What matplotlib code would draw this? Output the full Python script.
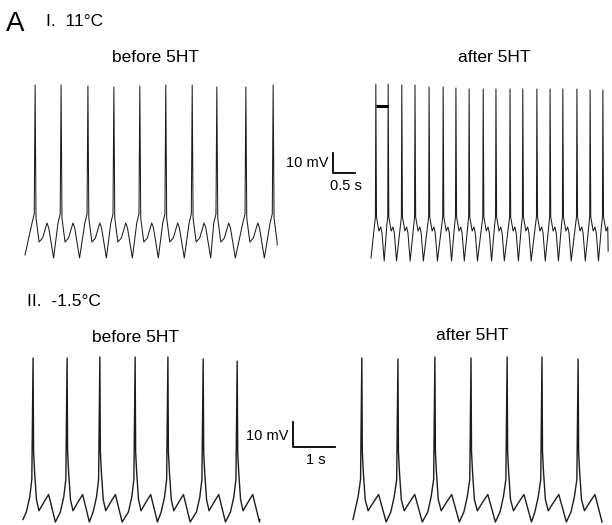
import matplotlib
matplotlib.use("Agg")
import matplotlib.pyplot as plt

plt.rcParams['font.family'] = ['Liberation Sans', 'DejaVu Sans']

W, H = 612, 525

# ---- I. 11 C ----------------------------------------------------------
# spike times (s) and peak voltages (mV), before 5HT
spk_11_pre = [0.23, 0.82, 1.43, 2.02, 2.61, 3.20, 3.80, 4.36, 5.02, 5.64]
peak_11_pre = [26.5, 26.5, 26, 25.5, 26, 26.5, 26.5, 25.5, 25.5, 26.5]
# waveform around each spike (time from peak in s, mV)
rise_dt_11_pre = [-0.07, -0.02]
rise_v_11_pre = [-42.5, -38]
fall_dt_11_pre = [0.02, 0.09, 0.17, 0.27, 0.31, 0.42]
fall_v_11_pre = [-40, -52, -50, -42.5, -45, -60]
end_11_pre = (5.73, -53.5)
start_v_11_pre = -58.5

# after 5HT
spk_11_post = [0.11, 0.39, 0.70, 1.00, 1.32, 1.64, 1.93, 2.23, 2.55, 2.84,
               3.16, 3.45, 3.77, 4.07, 4.36, 4.68, 4.98, 5.27]
peak_11_post = [28.5, 28.5, 28, 28, 27, 27, 26.5, 26, 26, 26,
                26, 26, 26, 26, 26, 26, 25.5, 25.5]
rise_dt_11_post = [-0.03, -0.01]
rise_v_11_post = [-42, -38]
fall_dt_11_post = [0.015, 0.045, 0.07, 0.11, 0.14, 0.19]
fall_v_11_post = [-38, -42, -45, -43, -46, -60]
end_11_post = (5.39, -55)
start_v_11_post = -58.5

# ---- II. -1.5 C -------------------------------------------------------
spk_m15_pre = [0.24, 1.05, 1.83, 2.67, 3.45, 4.29, 5.10]
peak_m15_pre = [5.6, 5.6, 6, 6, 6, 5.2, 4.4]
rise_dt_m15_pre = [-0.16, -0.08, -0.03]
rise_v_m15_pre = [-56, -50, -43]
fall_dt_m15_pre = [0.012, 0.036, 0.08, 0.14, 0.26, 0.37, 0.53]
fall_v_m15_pre = [-32, -40, -51, -55.5, -52, -49, -60]
end_m15_pre = (5.64, -59)
start_v_m15_pre = -59

spk_m15_post = [0.21, 1.07, 1.95, 2.81, 3.67, 4.50, 5.36]
peak_m15_post = [5.6, 5.2, 6, 5.6, 6, 6, 5.2]
rise_dt_m15_post = [-0.17, -0.09, -0.03]
rise_v_m15_post = [-56, -50, -43]
fall_dt_m15_post = [0.012, 0.036, 0.08, 0.15, 0.28, 0.40, 0.58]
fall_v_m15_post = [-32, -40, -51, -55.5, -52, -49, -60]
end_m15_post = (5.93, -60)
start_v_m15_post = -59


def build(spikes, peaks, rise_dt, rise_v, fall_dt, fall_v, start_v, end):
    t, v = [0.0], [start_v]
    for s, p in zip(spikes, peaks):
        for d, y in zip(rise_dt, rise_v):
            if s + d > t[-1]:
                t.append(s + d); v.append(y)
        t.append(s); v.append(p)
        for d, y in zip(fall_dt, fall_v):
            if s + d < end[0]:
                t.append(s + d); v.append(y)
    t.append(end[0]); v.append(end[1])
    return t, v


fig = plt.figure(figsize=(W / 100, H / 100), dpi=100)


def panel(x0, y0, px_s, px_mv):
    # t = 0 s sits at pixel x0, -60 mV at pixel y0 (from top)
    ax = fig.add_axes([0, 0, 1, 1])
    ax.set_xlim(-x0 / px_s, (W - x0) / px_s)
    ax.set_ylim(-60 - (H - y0) / px_mv, -60 + y0 / px_mv)
    ax.axis('off')
    return ax


def label(x, y, s, size=12.5, ha='center'):
    fig.text(x / W, 1 - y / H, s, fontsize=size, ha=ha, va='center')


trace = dict(color='#1c1c1c', lw=0.75)

ax1 = panel(25, 258, 44, 2)
ax1.plot(*build(spk_11_pre, peak_11_pre, rise_dt_11_pre, rise_v_11_pre,
                fall_dt_11_pre, fall_v_11_pre, start_v_11_pre, end_11_pre), **trace)

ax2 = panel(371, 261, 44, 2)
ax2.plot(*build(spk_11_post, peak_11_post, rise_dt_11_post, rise_v_11_post,
                fall_dt_11_post, fall_v_11_post, start_v_11_post, end_11_post), **trace)
# one-cycle marker
ax2.plot(spk_11_post[:2], [17.5, 17.5], color='black', lw=2.2, solid_capstyle='butt')
# scale bar 10 mV / 0.5 s
ax2.plot([-0.864, -0.864, -0.364], [-6, -16, -16], color='black', lw=1.3)

ax3 = panel(23, 522, 42, 2.5)
ax3.plot(*build(spk_m15_pre, peak_m15_pre, rise_dt_m15_pre, rise_v_m15_pre,
                fall_dt_m15_pre, fall_v_m15_pre, start_v_m15_pre, end_m15_pre),
         color='#1c1c1c', lw=1.0)
# scale bar 10 mV / 1 s
ax3.plot([6.43, 6.43, 7.43], [-20, -30, -30], color='black', lw=1.3)

ax4 = panel(353, 522, 42, 2.5)
ax4.plot(*build(spk_m15_post, peak_m15_post, rise_dt_m15_post, rise_v_m15_post,
                fall_dt_m15_post, fall_v_m15_post, start_v_m15_post, end_m15_post),
         color='#1c1c1c', lw=1.0)

label(6, 24, 'A', size=20, ha='left')
label(46, 21, 'I.  11°C', ha='left')
label(155, 57, 'before 5HT')
label(494, 57, 'after 5HT')
label(329, 163, '10 mV', size=10.5, ha='right')
label(346, 186, '0.5 s', size=10.5)
label(27, 302, 'II.  -1.5°C', ha='left')
label(135, 337, 'before 5HT')
label(472, 336, 'after 5HT')
label(289, 436, '10 mV', size=10.5, ha='right')
label(316, 460, '1 s', size=10.5)

fig.savefig('out.png', dpi=100)
